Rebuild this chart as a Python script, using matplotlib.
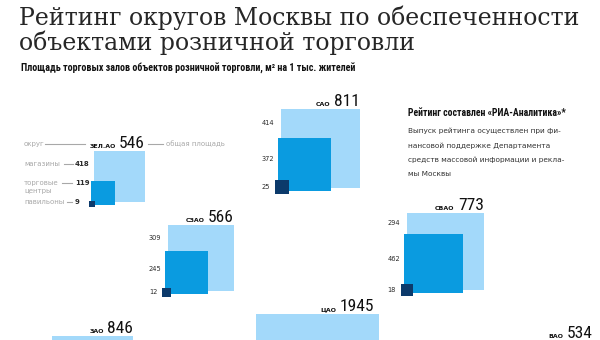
import numpy as np
import matplotlib
matplotlib.use("Agg")
import matplotlib.pyplot as plt
from matplotlib.patches import Rectangle

# districts with a full breakdown (legend sample first)
detail_names = ["ЗЕЛ.АО", "САО", "СЗАО", "СВАО"]
detail_totals = [546, 811, 566, 773]
shops = [418, 414, 309, 294]
malls = [119, 372, 245, 462]
pavilions = [9, 25, 12, 18]

# districts along the bottom edge, only the total square is visible
other_names = ["ЗАО", "ЦАО", "ВАО"]
other_totals = [846, 1945, 534]

# layout: top-right corner of each total square, px
detail_pos = [(145, 151), (360, 109), (234, 225), (484, 213)]
other_pos = [(133, 336), (379, 314), (593, 341)]
PX_PER_ROOT = 2.78        # square side = PX_PER_ROOT * sqrt(value)
LEGEND_PX_PER_ROOT = 2.2

LIGHT = "#a3d9fa"
MID = "#0a9be0"
DARK = "#0c3a6b"
GREY = "#a8a8a8"
INK = "#2b2b2b"

NARROW = ["Liberation Sans Narrow", "Roboto Condensed", "DejaVu Sans"]

fig = plt.figure(figsize=(6, 3.4), dpi=100)
ax = fig.add_axes([0, 0, 1, 1])
ax.set_xlim(0, 600)
ax.set_ylim(340, 0)
ax.axis("off")


def total_label(name, total, right, top, shift=0):
    num = ax.text(right - shift, top - 3, str(total), ha="right", va="baseline",
                  fontsize=12.5, family=NARROW, color="#111111")
    ax.annotate(name, xy=(0, 0), xycoords=num, xytext=(-2.5, 1.2),
                textcoords="offset points", ha="right", va="bottom",
                fontsize=4.5, fontweight="bold", family="DejaVu Sans",
                color="#111111")


def square(x_left, y_bottom, side, color):
    ax.add_patch(Rectangle((x_left, y_bottom - side), side, side,
                           facecolor=color, edgecolor="none"))


# district groups: total, malls, pavilions as nested squares
for i, name in enumerate(detail_names):
    right, top = detail_pos[i]
    k = LEGEND_PX_PER_ROOT if i == 0 else PX_PER_ROOT
    step = 2.5 if i == 0 else 3
    s_total = k * np.sqrt(detail_totals[i])
    s_mall = k * np.sqrt(malls[i])
    s_pav = k * np.sqrt(pavilions[i])
    left, bottom = right - s_total, top + s_total
    square(left, bottom, s_total, LIGHT)
    square(left - step, bottom + step, s_mall, MID)
    square(left - 2 * step, bottom + 2 * step, s_pav, DARK)
    total_label(name, detail_totals[i], right, top)

    mall_top = bottom + step - s_mall
    pav_top = bottom + 2 * step - s_pav
    ys = [(top + mall_top) / 2, (mall_top + pav_top) / 2, pav_top + s_pav / 2]
    vals = [shops[i], malls[i], pavilions[i]]
    if i == 0:
        continue
    for y, v in zip(ys, vals):
        ax.text(left - 19, y, str(v), ha="left", va="center",
                fontsize=4.8, color=INK)

# legend captions for the sample district
cap = dict(fontsize=5, color=GREY, va="center", ha="left")
ax.text(24, 144, "округ", **cap)
ax.plot([45, 85], [144, 144], color=GREY, lw=0.8)
ax.plot([148, 163], [144, 144], color=GREY, lw=0.8)
ax.text(166, 144, "общая площадь", **cap)
ax.text(24, 164, "магазины", **cap)
ax.plot([64, 73], [164, 164], color=GREY, lw=0.8)
ax.text(24, 183, "торговые", **cap)
ax.text(24, 191.5, "центры", **cap)
ax.plot([62, 72], [183, 183], color=GREY, lw=0.8)
ax.text(24, 201.5, "павильоны", **cap)
ax.plot([67, 72], [201.5, 201.5], color=GREY, lw=0.8)
for y, v in zip([164, 183, 201.5], [shops[0], malls[0], pavilions[0]]):
    ax.text(75, y, str(v), ha="left", va="center", fontsize=5,
            fontweight="bold", color=INK)

# bottom row, cut by the frame
for name, total, (right, top) in zip(other_names, other_totals, other_pos):
    side = PX_PER_ROOT * np.sqrt(total)
    square(right - side, top + side, side, LIGHT)
    total_label(name, total, right, top, shift=5 if name == "ЦАО" else 0)

# titles
ax.text(19, 6, "Рейтинг округов Москвы по обеспеченности\nобъектами розничной торговли",
        ha="left", va="top", fontsize=17, family="DejaVu Serif",
        color="#262626", linespacing=1.02)
ax.text(21, 68, "Площадь торговых залов объектов розничной торговли, м² на 1 тыс. жителей",
        ha="left", va="center", fontsize=7.2, family=NARROW, fontweight="bold",
        color="#111111")

# note on the right
ax.text(408, 113, "Рейтинг составлен «РИА-Аналитика»*", ha="left", va="center",
        fontsize=7.0, family=NARROW, fontweight="bold", color="#111111")
note = ["Выпуск рейтинга осуществлен при фи-",
        "нансовой поддержке Департамента",
        "средств массовой информации и рекла-",
        "мы Москвы"]
for j, line in enumerate(note):
    ax.text(408, 131 + j * 14.2, line, ha="left", va="center",
            fontsize=5.3, color="#333333")

fig.savefig("out.png", dpi=100)
